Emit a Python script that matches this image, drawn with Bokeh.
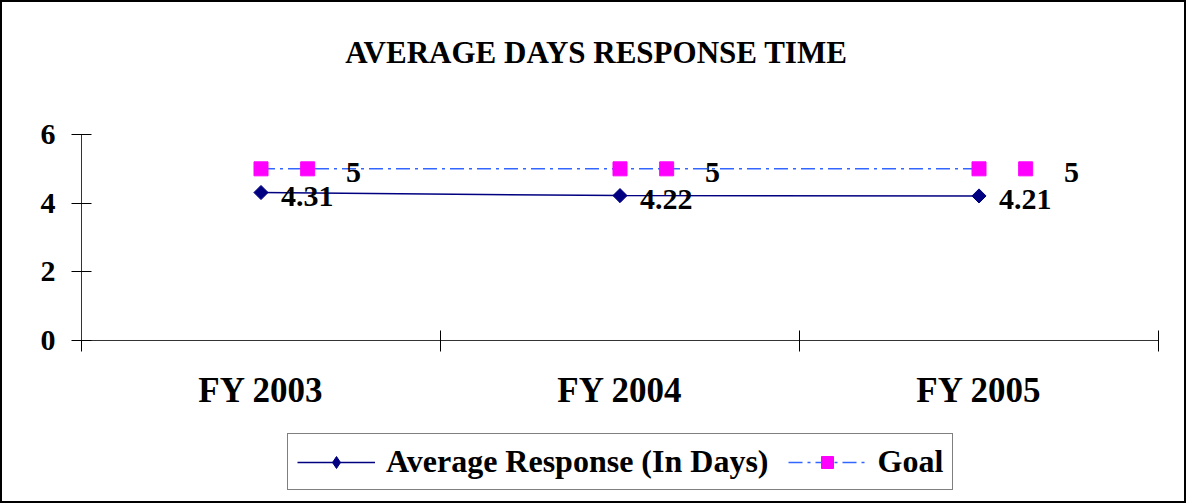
import math
from bokeh.plotting import figure
from bokeh.layouts import column
from bokeh.models import Range1d, FixedTicker, Legend, LegendItem, ColumnDataSource, Label
from bokeh.transform import dodge
from bokeh.core.properties import value
from bokeh.embed import file_html
from bokeh.resources import INLINE

categories = ["FY 2003", "FY 2004", "FY 2005"]
avg_response = [4.31, 4.22, 4.21]
goal = [5, 5, 5]
y_ticks = [0, 2, 4, 6]
title_text = "AVERAGE DAYS RESPONSE TIME"
series_names = ["Average Response (In Days)", "Goal"]

FONT = "Liberation Serif"
NAVY = "#000080"
MAGENTA = "#FF00FF"
BLUE = "#3366FF"
W = 1182


def bare(height):
    f = figure(width=W, height=height, title=None,
               x_range=Range1d(0, 1), y_range=Range1d(0, 1),
               x_axis_location=None, y_axis_location=None,
               output_backend="svg", toolbar_location=None,
               min_border=0)
    f.outline_line_color = None
    f.xgrid.visible = False
    f.ygrid.visible = False
    return f


xs = [i + 0.5 for i in range(len(categories))]
src = ColumnDataSource(dict(
    x=xs,
    avg=avg_response,
    goal=goal,
    avg_label=[f"{v:.2f}" for v in avg_response],
    goal_label=[f"{v:g}" for v in goal],
))

# ---- title strip
tf = bare(112)
tf.add_layout(Label(x=0.478, y=0.554, text=title_text, text_align="center",
                    text_baseline="middle", text_font=FONT, text_font_style="bold",
                    text_font_size="31px", text_color="black"))

# ---- main chart
p = figure(width=W, height=308, title=None,
           x_range=Range1d(0, len(categories)), y_range=Range1d(0, 6),
           output_backend="svg", toolbar_location=None,
           min_border_left=79, min_border_right=26,
           min_border_top=20, min_border_bottom=82)
p.xgrid.visible = False
p.ygrid.visible = False
p.outline_line_color = None

xa = p.xaxis[0]
xa.axis_label = None
xa.ticker = FixedTicker(ticks=xs, minor_ticks=list(range(len(categories) + 1)))
xa.major_label_overrides = {x: c for x, c in zip(xs, categories)}
xa.major_tick_line_color = None
xa.minor_tick_in = 10
xa.minor_tick_out = 11
xa.minor_tick_line_color = "black"
xa.axis_line_color = "#333333"
xa.major_label_text_font = FONT
xa.major_label_text_font_style = "bold"
xa.major_label_text_font_size = "35px"
xa.major_label_text_color = "black"
xa.major_label_standoff = 19

ya = p.yaxis[0]
ya.axis_label = None
ya.ticker = FixedTicker(ticks=y_ticks)
ya.major_tick_in = 10
ya.major_tick_out = 10
ya.minor_tick_line_color = None
ya.axis_line_color = "#333333"
ya.major_tick_line_color = "black"
ya.major_label_text_font = FONT
ya.major_label_text_font_style = "bold"
ya.major_label_text_font_size = "30px"
ya.major_label_text_color = "black"
ya.major_label_standoff = 16

p.line("x", "avg", source=src, line_color=NAVY, line_width=1.5)
p.scatter("x", "avg", source=src, marker="square", angle=math.pi / 4,
          size=10, fill_color=NAVY, line_color=NAVY)
p.line("x", "goal", source=src, line_color=BLUE, line_width=1.5,
       line_dash="14 5 3 5")
p.scatter("x", "goal", source=src, marker="square", size=14,
          fill_color=MAGENTA, line_color=MAGENTA)
# legend keys shown next to the goal data labels
p.scatter(dodge("x", 0.13, range=p.x_range), "goal", source=src, marker="square",
          size=14, fill_color=MAGENTA, line_color=MAGENTA)

p.text("x", "avg", text="avg_label", source=src, x_offset=20, y_offset=4,
       text_font=value(FONT), text_font_style="bold", text_font_size="30px",
       text_baseline="middle", text_color="black")
p.text("x", "goal", text="goal_label", source=src, x_offset=85, y_offset=4,
       text_font=value(FONT), text_font_style="bold", text_font_size="30px",
       text_baseline="middle", text_color="black")

# ---- legend strip (same series, outside this strip's visible range)
lf = bare(79)
l_avg_line = lf.line("x", "avg", source=src, line_color=NAVY, line_width=1.5)
l_avg_pt = lf.scatter("x", "avg", source=src, marker="diamond", size=15,
                      fill_color=NAVY, line_color=NAVY)
l_goal_line = lf.line("x", "goal", source=src, line_color=BLUE, line_width=1.5,
                      line_dash="14 5 3 5")
l_goal_pt = lf.scatter("x", "goal", source=src, marker="square", size=14,
                       fill_color=MAGENTA, line_color=MAGENTA)

legend = Legend(items=[
    LegendItem(label=series_names[0], renderers=[l_avg_line, l_avg_pt]),
    LegendItem(label=series_names[1], renderers=[l_goal_line, l_goal_pt]),
], orientation="horizontal", location=(206, 11))
legend.label_text_font = FONT
legend.label_text_font_style = "bold"
legend.label_text_font_size = "32px"
legend.label_text_color = "black"
legend.glyph_width = 78
legend.glyph_height = 30
legend.label_standoff = 11
legend.spacing = 20
legend.padding = 9
legend.margin = 0
legend.border_line_color = "black"
legend.border_line_width = 1.5
legend.background_fill_color = "white"
lf.add_layout(legend, "center")

layout = column(tf, p, lf, spacing=0)
layout.styles = {"border": "2px solid black"}

open("out.html", "w").write(file_html(layout, INLINE))
